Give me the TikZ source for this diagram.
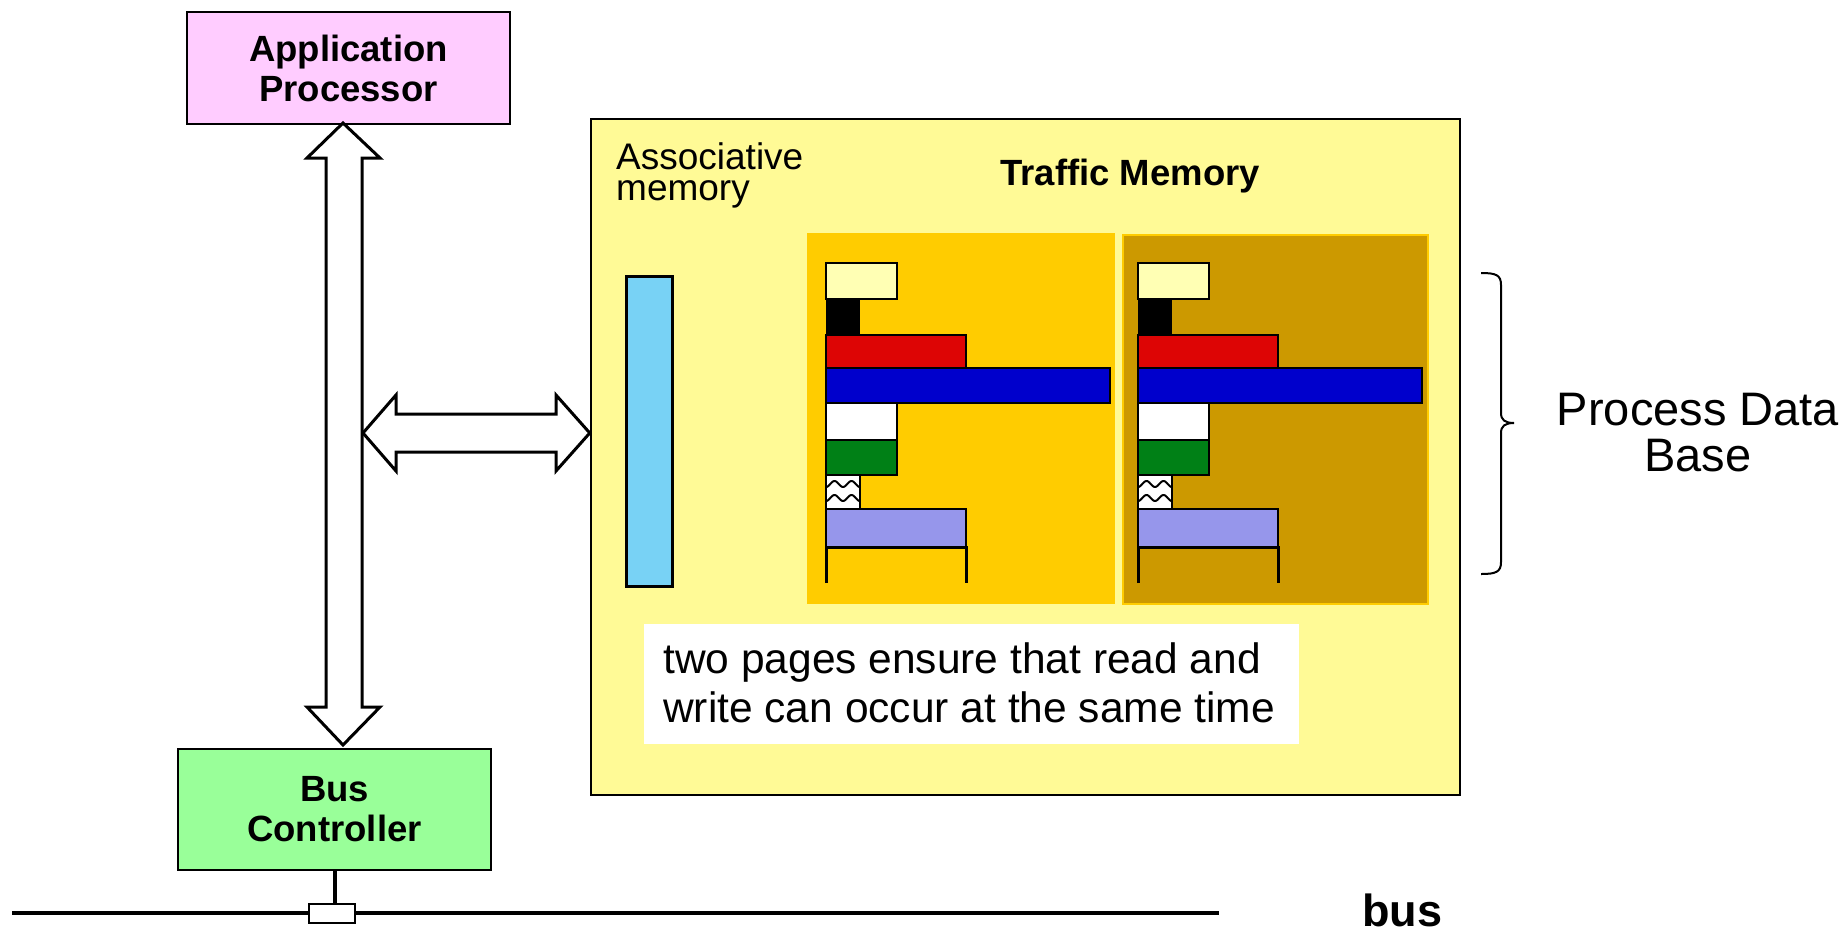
\documentclass[tikz,border=0pt]{standalone}
\usepackage{fontspec}
\setmainfont{Liberation Sans}
\newcommand\myfs[2]{\fontsize{#1}{#2}\selectfont}
\definecolor{apfill}{RGB}{255,204,255}
\definecolor{bcfill}{RGB}{153,255,153}
\definecolor{mainfill}{RGB}{255,250,150}
\definecolor{pageone}{RGB}{255,204,0}
\definecolor{pagetwo}{RGB}{204,153,0}
\definecolor{assocfill}{RGB}{120,210,245}
\definecolor{paleyellow}{RGB}{255,255,180}
\definecolor{barred}{RGB}{221,5,5}
\definecolor{barblue}{RGB}{0,0,204}
\definecolor{bargreen}{RGB}{0,128,22}
\definecolor{dotblue}{RGB}{150,150,235}
\tikzset{
  box/.style={draw=black, line width=2.5pt, inner sep=0pt},
  blockarrow/.style={draw=black, fill=white, line width=3pt, line join=miter},
  bar/.style={draw=black, line width=2.5pt},
  titlefont/.style={font=\myfs{36.5}{40}\bfseries},
}
\begin{document}
\begin{tikzpicture}[x=1pt,y=-1pt]
\useasboundingbox[fill=white] (0,0) rectangle (1846,934);

% main boxes
\node[box, fill=apfill, minimum width=323pt, minimum height=112pt, align=center, titlefont] (ap) at (348.5,68) {Application\\Processor};
\node[box, fill=bcfill, minimum width=313pt, minimum height=121pt, align=center, titlefont] (bc) at (334.5,809.5) {Bus\\Controller};
\node[box, fill=mainfill, minimum width=869pt, minimum height=676pt] (tm) at (1025.5,457) {};

% pages
\node[fill=pageone, inner sep=0pt, minimum width=308pt, minimum height=371pt] (p1) at (961,418.5) {};
\node[fill=pagetwo, draw=pageone, line width=2pt, inner sep=0pt, minimum width=305pt, minimum height=369pt] (p2) at (1275.5,419.5) {};

% associative memory bar
\node[draw=black, line width=3pt, fill=assocfill, inner sep=0pt, minimum width=46pt, minimum height=310pt] (assoc) at (649,431) {};

% labels
\node[anchor=base west, inner sep=0pt, align=left, font=\myfs{37}{31}] (assoclbl) at (616,200) {Associative\\memory};
\node[anchor=base west, inner sep=0pt, font=\myfs{36.5}{39}\bfseries] (tmlbl) at (1000,185) {Traffic Memory};

% pages content
\foreach \o in {0,312}{
  \begin{scope}[xshift=\o pt]
    \draw[bar, fill=paleyellow] (826,263) rectangle (897,299);
    \fill[black] (826,299) rectangle (860,335);
    \draw[bar, fill=barred] (826,335) rectangle (966,368);
    \draw[bar, fill=barblue] (826,368) rectangle (1110,403);
    \draw[bar, fill=white] (826,403) rectangle (897,440);
    \draw[bar, fill=bargreen] (826,440) rectangle (897,475);
    \fill[white] (826,475) rectangle (860,509);
    \begin{scope}
      \clip (826,475) rectangle (860,509);
      \draw[black, line width=2pt] plot[domain=0:34, samples=40] ({826+\x},{484+3*cos(\x*360/17)});
      \draw[black, line width=2pt] plot[domain=0:34, samples=40] ({826+\x},{498+3*cos(\x*360/17)});
    \end{scope}
    \draw[bar] (826,475) rectangle (860,509);
    \draw[bar, fill=dotblue] (826,509) rectangle (966,547);
    \draw[line width=3pt] (826,583) -- (826,547) -- (966,547) -- (966,583);
  \end{scope}
}

% note
\node[fill=white, inner sep=0pt, minimum width=655pt, minimum height=120pt] (notebox) at (971.5,684) {};
\node[anchor=base west, inner sep=0pt, align=left, font=\myfs{42.5}{49}] (notelbl) at (663,722) {two pages ensure that read and\\write can occur at the same time};

% brace and process data base
\coordinate (bt) at (1481,273);
\coordinate (bb) at (1481,574);
\draw[line width=2pt] (bt) .. controls (1496,273) and (1501,275) .. (1501,285) -- (1501,413)
  .. controls (1501,420) and (1505,423) .. (1514,423)
  .. controls (1505,423) and (1501,426) .. (1501,433) -- (1501,562)
  .. controls (1501,572) and (1496,574) .. (bb);
\node[anchor=base, inner sep=0pt, align=center, font=\myfs{47}{46}] (pdb) at (1698,471) {Process Data\\Base};

% vertical double block arrow
\coordinate (vt) at (343,123);
\coordinate (vb) at (343,745);
\draw[blockarrow] (vt) -- ++(37,35) -- ++(-18,0) -- (362,707) -- ++(18,0) -- (vb) -- (307,707) -- ++(19,0) -- (326,158) -- ++(-19,0) -- cycle;

% horizontal double block arrow
\coordinate (hl) at (363,433);
\coordinate (hr) at (tm.west |- hl);
\draw[blockarrow] (hl) -- (396,395) -- (396,414) -- (556,414) -- (556,395) -- (hr) -- (556,471) -- (556,452) -- (396,452) -- (396,471) -- cycle;

% bus
\coordinate (busL) at (12,913);
\coordinate (busR) at (1219,913);
\draw[line width=4pt] (busL) -- (busR);
\node[draw=black, fill=white, line width=2pt, inner sep=0pt, minimum width=46pt, minimum height=19pt] (tap) at (332,913.5) {};
\draw[line width=4pt] (bc.south) -- (tap.north -| bc.south);
\node[anchor=base west, inner sep=0pt, font=\myfs{45}{45}\bfseries] (buslbl) at (1362,926) {bus};
\end{tikzpicture}
\end{document}
